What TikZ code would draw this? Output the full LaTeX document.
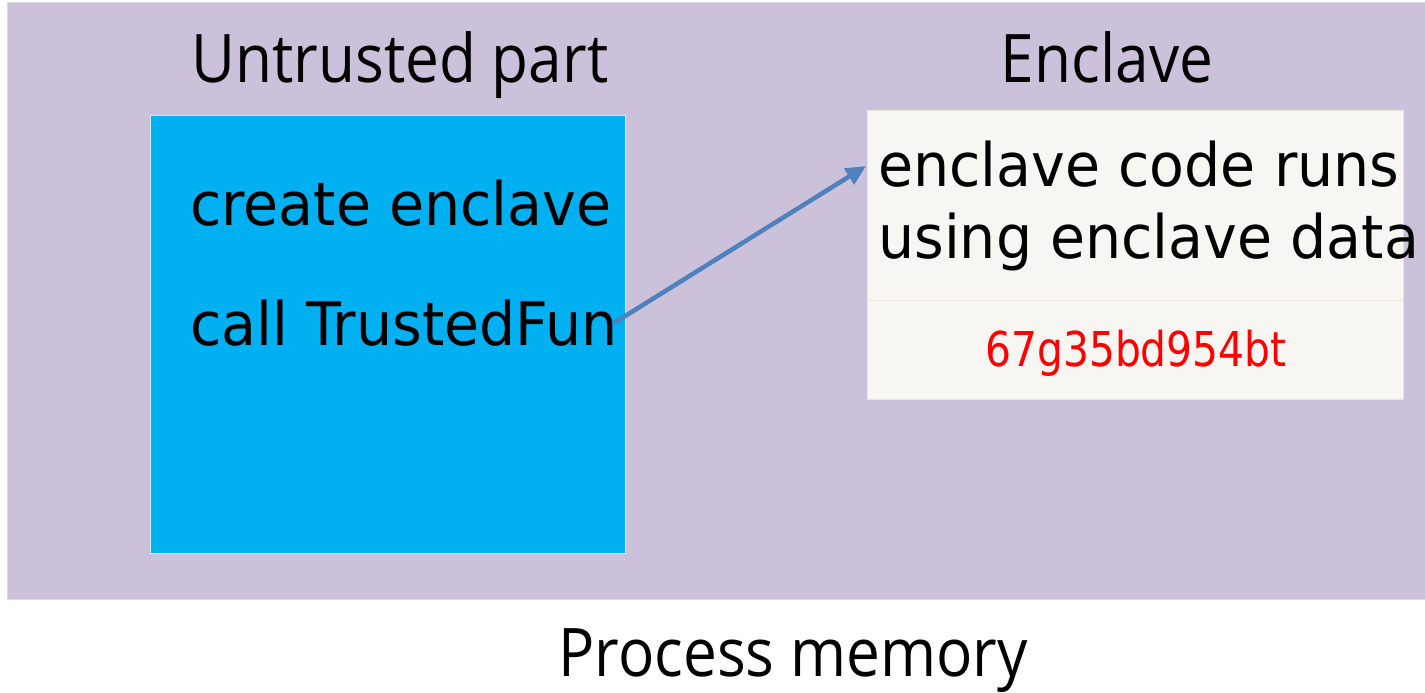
\documentclass[tikz,border=0pt]{standalone}
\usepackage{fontspec}
\setmainfont[FakeStretch=0.9]{Open Sans}
\newfontfamily\boxfont[FakeStretch=0.95]{DejaVu Sans}
\newfontfamily\codefont[FakeStretch=0.85]{DejaVu Sans}
\usetikzlibrary{arrows.meta}

\definecolor{memfill}{HTML}{CBC1DB}
\definecolor{memline}{HTML}{D9D9D9}
\definecolor{untrustedfill}{HTML}{00B0F0}
\definecolor{enclavefill}{HTML}{F7F6F2}
\definecolor{enclaveline}{HTML}{E8E6DC}
\definecolor{callarrow}{HTML}{4F81BD}
\definecolor{secret}{HTML}{FF0000}

\tikzset{
  region/.style={draw=memline, line width=1pt},
  title/.style={anchor=base, font=\fontsize{67}{80}\selectfont, inner sep=0pt},
  boxtext/.style={anchor=base west, font=\boxfont\fontsize{60}{71}\selectfont, inner sep=0pt},
  calllink/.style={draw=callarrow, line width=4.5pt, -{Triangle[length=20pt,width=18pt]}},
}

\begin{document}
\begin{tikzpicture}[x=1pt, y=-1pt]
  \useasboundingbox (0,0) rectangle (1425,693);

  % process memory region
  \path[region, fill=memfill] (7,3) rectangle (1430,599);

  % untrusted part
  \path[fill=untrustedfill, draw=white!80!untrustedfill, line width=1pt] (150.5,115.5) rectangle (625.5,553);
  \node[title] (untitle) at (400,82.7) {Untrusted part};
  \node[boxtext] (create) at (190,225) {create enclave};
  \node[boxtext] (call) at (190,345.7) {call TrustedFun};

  % enclave
  \path[fill=enclavefill, draw=enclaveline, line width=1pt] (867.5,110.5) rectangle (1403,399);
  \draw[enclaveline, line width=1pt] (867.5,300.7) -- (1403,300.7);
  \node[title] (enctitle) at (1107,82.7) {Enclave};
  \node[boxtext] (runs) at (878,186.7) {enclave code runs};
  \node[boxtext] (using) at (878,258.3) {using enclave data};
  \node[anchor=base, inner sep=0pt, text=secret, font=\codefont\fontsize{48}{56}\selectfont] (secretdata) at (1136,366.7) {67g35bd954bt};

  % call into the enclave
  \coordinate (callsrc) at (614,323);
  \coordinate (calldst) at (866,166);
  \draw[calllink] (callsrc) -- (calldst);

  % caption
  \node[title] (caption) at (793,676) {Process memory};
\end{tikzpicture}
\end{document}
